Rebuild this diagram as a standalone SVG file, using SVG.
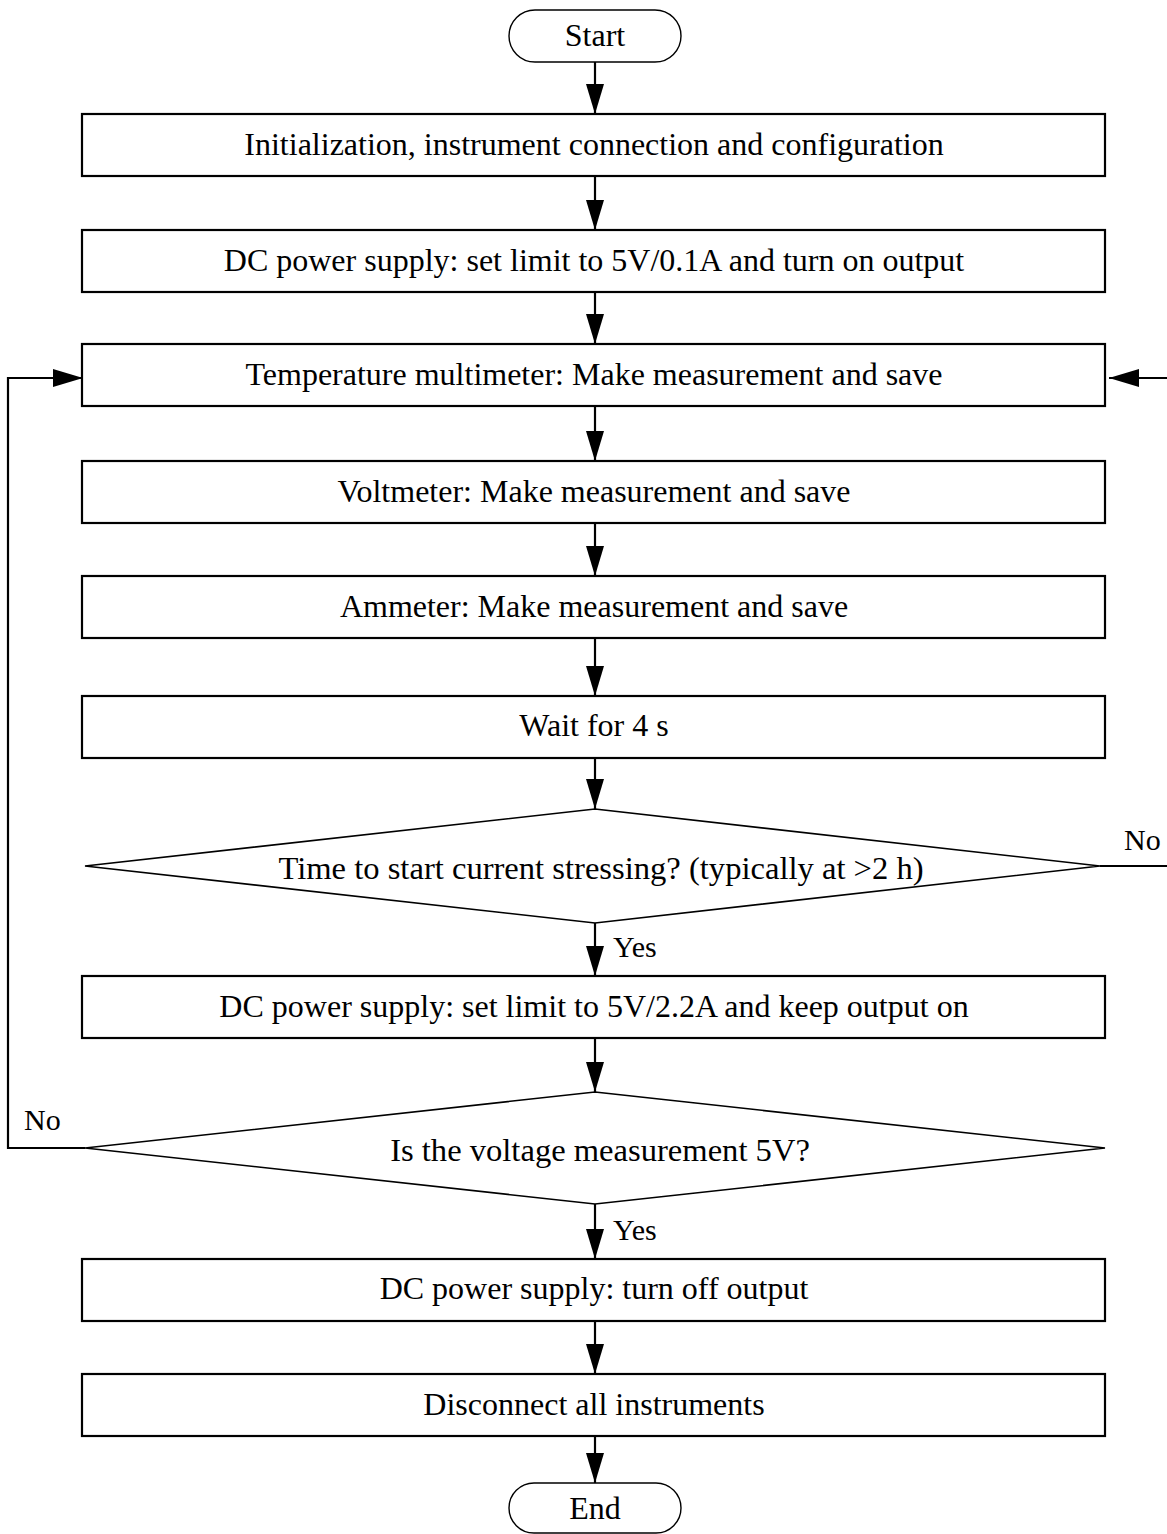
<svg xmlns="http://www.w3.org/2000/svg" width="1167" height="1534" viewBox="0 0 1167 1534">
  <style>
    .box { fill: #fff; stroke: #000; stroke-width: 2.2; }
    .dec { fill: #fff; stroke: #000; stroke-width: 1.6; }
    .term { fill: #fff; stroke: #000; stroke-width: 1.4; }
    text { font-family: 'Liberation Serif', 'DejaVu Serif', serif; font-size: 32px; fill: #000; }
    .lbl { text-anchor: middle; }
    .q { font-size: 32.6px; }
    .side { font-size: 30px; }
    .wire { fill: none; stroke: #000; stroke-width: 2.2; }
  </style>
  <defs>
    <marker id="arr" markerUnits="userSpaceOnUse" markerWidth="30" markerHeight="18" refX="30" refY="9" orient="auto">
      <path d="M0,0 L30,9 L0,18 Z" fill="#000"/>
    </marker>
  </defs>
  <rect width="1167" height="1534" fill="#fff"/>

  <!-- connectors -->
  <g id="connectors">
    <line class="wire" x1="595" y1="62" x2="595" y2="114" marker-end="url(#arr)"/>
    <line class="wire" x1="595" y1="176" x2="595" y2="230" marker-end="url(#arr)"/>
    <line class="wire" x1="595" y1="292" x2="595" y2="344" marker-end="url(#arr)"/>
    <line class="wire" x1="595" y1="406" x2="595" y2="461" marker-end="url(#arr)"/>
    <line class="wire" x1="595" y1="523" x2="595" y2="576" marker-end="url(#arr)"/>
    <line class="wire" x1="595" y1="638" x2="595" y2="696" marker-end="url(#arr)"/>
    <line class="wire" x1="595" y1="758" x2="595" y2="809" marker-end="url(#arr)"/>
    <line class="wire" x1="595" y1="923" x2="595" y2="976" marker-end="url(#arr)"/>
    <line class="wire" x1="595" y1="1038" x2="595" y2="1092" marker-end="url(#arr)"/>
    <line class="wire" x1="595" y1="1204" x2="595" y2="1259" marker-end="url(#arr)"/>
    <line class="wire" x1="595" y1="1321" x2="595" y2="1374" marker-end="url(#arr)"/>
    <line class="wire" x1="595" y1="1436" x2="595" y2="1483" marker-end="url(#arr)"/>
    <!-- No branch of first decision: back up to the measurement step -->
    <polyline class="wire" points="1100,866 1169,866 1169,378 1109,378" marker-end="url(#arr)"/>
    <!-- No branch of second decision: loop back on the left -->
    <polyline class="wire" points="85,1148 8,1148 8,378 83,378" marker-end="url(#arr)"/>
    <text class="side" x="1124" y="850">No</text>
    <text class="side" x="24" y="1130">No</text>
    <text class="side" x="613" y="957">Yes</text>
    <text class="side" x="613" y="1240">Yes</text>
  </g>

  <g id="start">
    <rect class="term" x="509" y="10" width="172" height="52" rx="26" ry="26"/>
    <text class="lbl" x="595" y="46">Start</text>
  </g>
  <g id="init">
    <rect class="box" x="82" y="114" width="1023" height="62"/>
    <text class="lbl" x="594" y="155">Initialization, instrument connection and configuration</text>
  </g>
  <g id="psu-low">
    <rect class="box" x="82" y="230" width="1023" height="62"/>
    <text class="lbl" x="594" y="271">DC power supply: set limit to 5V/0.1A and turn on output</text>
  </g>
  <g id="temp">
    <rect class="box" x="82" y="344" width="1023" height="62"/>
    <text class="lbl" x="594" y="385">Temperature multimeter: Make measurement and save</text>
  </g>
  <g id="volt">
    <rect class="box" x="82" y="461" width="1023" height="62"/>
    <text class="lbl" x="594" y="502">Voltmeter: Make measurement and save</text>
  </g>
  <g id="amp">
    <rect class="box" x="82" y="576" width="1023" height="62"/>
    <text class="lbl" x="594" y="617">Ammeter: Make measurement and save</text>
  </g>
  <g id="wait">
    <rect class="box" x="82" y="696" width="1023" height="62"/>
    <text class="lbl" x="594" y="736">Wait for 4 s</text>
  </g>
  <g id="check-time">
    <polygon class="dec" points="595,809 1100,866 595,923 85,866"/>
    <text class="lbl q" x="601" y="879">Time to start current stressing? (typically at &gt;2 h)</text>
  </g>
  <g id="psu-high">
    <rect class="box" x="82" y="976" width="1023" height="62"/>
    <text class="lbl" x="594" y="1017">DC power supply: set limit to 5V/2.2A and keep output on</text>
  </g>
  <g id="check-volt">
    <polygon class="dec" points="595,1092 1105,1148 595,1204 85,1148"/>
    <text class="lbl q" x="600" y="1161">Is the voltage measurement 5V?</text>
  </g>
  <g id="psu-off">
    <rect class="box" x="82" y="1259" width="1023" height="62"/>
    <text class="lbl" x="594" y="1299">DC power supply: turn off output</text>
  </g>
  <g id="disconnect">
    <rect class="box" x="82" y="1374" width="1023" height="62"/>
    <text class="lbl" x="594" y="1415">Disconnect all instruments</text>
  </g>
  <g id="end">
    <rect class="term" x="509" y="1483" width="172" height="50" rx="25" ry="25"/>
    <text class="lbl" x="595" y="1519">End</text>
  </g>
</svg>
